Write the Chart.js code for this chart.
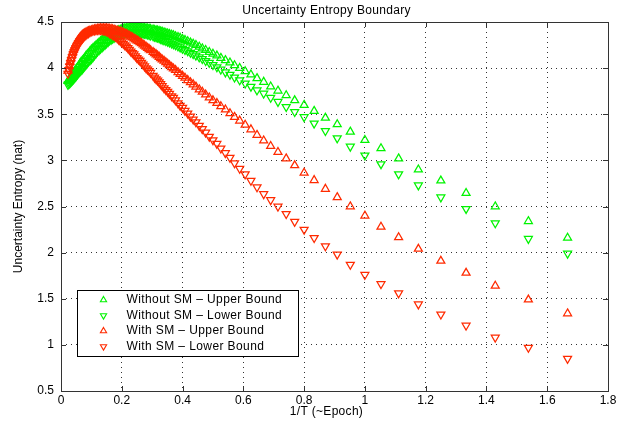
<!DOCTYPE html>
<html>
<head>
<meta charset="utf-8">
<title>Uncertainty Entropy Boundary</title>
<script src="https://cdn.jsdelivr.net/npm/chart.js@4.4.1/dist/chart.umd.min.js"></script>
<style>
    html, body { margin: 0; padding: 0; background: #fff; }
    #wrap { width: 639px; height: 426px; }
</style>
</head>
<body>
<div id="wrap"><canvas id="entropy-chart" width="639" height="426"></canvas></div>
<script>
// x = 1/T, shared by all four series (dense on the left where markers merge into a band)
const invT = [
    0.023, 0.026, 0.029, 0.032, 0.035, 0.038, 0.041, 0.044, 0.047, 0.050, 0.054,
    0.058, 0.062, 0.066, 0.070, 0.074, 0.078, 0.082, 0.086, 0.090, 0.095,
    0.100, 0.105, 0.110, 0.115, 0.120, 0.125, 0.130, 0.135, 0.140, 0.145,
    0.150, 0.155, 0.160, 0.165, 0.170, 0.175, 0.180, 0.185, 0.190, 0.195,
    0.200, 0.205, 0.210, 0.215, 0.220, 0.225, 0.230, 0.235, 0.240, 0.245,
    0.250, 0.255, 0.260, 0.265, 0.270, 0.275, 0.280, 0.285, 0.290, 0.295,
    0.303, 0.308, 0.313, 0.318, 0.323, 0.328, 0.333, 0.339, 0.345, 0.351, 0.357, 0.364, 0.370,
    0.377, 0.385, 0.392, 0.400, 0.408, 0.417, 0.426, 0.435, 0.444, 0.455, 0.465, 0.476, 0.488,
    0.500, 0.513, 0.526, 0.541, 0.556, 0.571, 0.588, 0.606, 0.625, 0.645,
    0.667, 0.690, 0.714, 0.741, 0.769, 0.800, 0.833, 0.870, 0.909, 0.952,
    1.000, 1.053, 1.111, 1.176, 1.250, 1.333, 1.429, 1.538, 1.667
];

const withoutSmUpper = [
    3.86, 3.87, 3.885, 3.90, 3.915, 3.93, 3.945, 3.96, 3.975, 3.99, 4.005,
    4.025, 4.045, 4.065, 4.08, 4.095, 4.11, 4.13, 4.145, 4.16, 4.18,
    4.20, 4.215, 4.23, 4.245, 4.26, 4.275, 4.29, 4.305, 4.32, 4.33,
    4.34, 4.35, 4.36, 4.37, 4.38, 4.388, 4.395, 4.403, 4.41, 4.415,
    4.42, 4.425, 4.43, 4.433, 4.435, 4.438, 4.44, 4.44, 4.44, 4.44,
    4.44, 4.44, 4.44, 4.438, 4.435, 4.433, 4.43, 4.428, 4.425, 4.423,
    4.417, 4.412, 4.408, 4.406, 4.402, 4.397, 4.392, 4.386, 4.38, 4.374, 4.368, 4.361, 4.355,
    4.345, 4.335, 4.327, 4.315, 4.303, 4.29, 4.276, 4.263, 4.249, 4.23, 4.213, 4.196, 4.174,
    4.155, 4.135, 4.11, 4.085, 4.06, 4.03, 4.00, 3.965, 3.93, 3.89,
    3.85, 3.80, 3.755, 3.705, 3.65, 3.60, 3.535, 3.46, 3.39, 3.31,
    3.22, 3.13, 3.02, 2.90, 2.78, 2.645, 2.50, 2.34, 2.16
];

const withoutSmLower = [
    3.82, 3.83, 3.838, 3.848, 3.859, 3.87, 3.881, 3.893, 3.904, 3.915, 3.931,
    3.947, 3.963, 3.978, 3.99, 4.006, 4.022, 4.038, 4.054, 4.07, 4.085,
    4.10, 4.12, 4.14, 4.16, 4.18, 4.195, 4.21, 4.225, 4.24, 4.255,
    4.27, 4.285, 4.30, 4.31, 4.32, 4.33, 4.34, 4.348, 4.355, 4.36,
    4.365, 4.37, 4.375, 4.378, 4.38, 4.383, 4.385, 4.385, 4.385, 4.385,
    4.385, 4.383, 4.38, 4.378, 4.375, 4.373, 4.37, 4.365, 4.36, 4.355,
    4.347, 4.342, 4.337, 4.332, 4.326, 4.318, 4.31, 4.302, 4.295, 4.288, 4.28, 4.269, 4.26,
    4.25, 4.237, 4.226, 4.21, 4.198, 4.185, 4.168, 4.153, 4.137, 4.118, 4.10, 4.078, 4.058,
    4.035, 4.01, 3.985, 3.955, 3.93, 3.90, 3.87, 3.835, 3.80, 3.76,
    3.725, 3.68, 3.635, 3.58, 3.525, 3.47, 3.40, 3.32, 3.24, 3.15,
    3.055, 2.96, 2.85, 2.73, 2.60, 2.475, 2.32, 2.15, 1.99
];

const withSmUpper = [
    3.97, 4.02, 4.065, 4.105, 4.14, 4.17, 4.20, 4.225, 4.247, 4.27, 4.294,
    4.312, 4.328, 4.344, 4.36, 4.368, 4.376, 4.384, 4.392, 4.40, 4.405,
    4.41, 4.415, 4.42, 4.423, 4.425, 4.428, 4.43, 4.43, 4.43, 4.43,
    4.43, 4.428, 4.425, 4.423, 4.42, 4.415, 4.41, 4.405, 4.40, 4.395,
    4.39, 4.383, 4.375, 4.368, 4.36, 4.35, 4.34, 4.33, 4.32, 4.31,
    4.30, 4.29, 4.28, 4.268, 4.255, 4.243, 4.23, 4.218, 4.205, 4.193,
    4.173, 4.16, 4.148, 4.135, 4.121, 4.106, 4.093, 4.078, 4.063, 4.047, 4.029, 4.01, 3.995,
    3.978, 3.955, 3.935, 3.915, 3.895, 3.869, 3.845, 3.823, 3.798, 3.768, 3.743, 3.712, 3.68,
    3.65, 3.62, 3.585, 3.55, 3.51, 3.47, 3.43, 3.385, 3.335, 3.275,
    3.215, 3.155, 3.09, 3.02, 2.945, 2.865, 2.785, 2.69, 2.60, 2.50,
    2.40, 2.28, 2.165, 2.04, 1.91, 1.78, 1.64, 1.49, 1.34
];

const withSmLower = [
    3.94, 3.98, 4.018, 4.055, 4.09, 4.12, 4.15, 4.175, 4.198, 4.22, 4.244,
    4.268, 4.288, 4.304, 4.32, 4.336, 4.349, 4.361, 4.373, 4.38, 4.39,
    4.40, 4.405, 4.41, 4.413, 4.415, 4.415, 4.415, 4.413, 4.41, 4.405,
    4.40, 4.39, 4.38, 4.37, 4.36, 4.35, 4.34, 4.325, 4.31, 4.295,
    4.28, 4.265, 4.25, 4.235, 4.22, 4.20, 4.18, 4.165, 4.15, 4.13,
    4.11, 4.095, 4.08, 4.06, 4.04, 4.02, 4.00, 3.985, 3.97, 3.95,
    3.918, 3.898, 3.881, 3.866, 3.848, 3.828, 3.808, 3.784, 3.765, 3.746, 3.722, 3.696, 3.68,
    3.652, 3.62, 3.594, 3.57, 3.538, 3.509, 3.476, 3.445, 3.414, 3.375, 3.34, 3.302, 3.258,
    3.22, 3.18, 3.13, 3.08, 3.03, 2.97, 2.91, 2.85, 2.78, 2.71,
    2.635, 2.57, 2.50, 2.42, 2.335, 2.25, 2.16, 2.07, 1.98, 1.87,
    1.76, 1.66, 1.56, 1.44, 1.33, 1.21, 1.08, 0.97, 0.85
];

const seriesLabels = [
    'Without SM \u2013 Upper Bound',
    'Without SM \u2013 Lower Bound',
    'With SM \u2013 Upper Bound',
    'With SM \u2013 Lower Bound'
];

const xTickValues = [0, 0.2, 0.4, 0.6, 0.8, 1, 1.2, 1.4, 1.6, 1.8];
const yTickValues = [0.5, 1, 1.5, 2, 2.5, 3, 3.5, 4, 4.5];

const chartTitle = 'Uncertainty Entropy Boundary';
const xTitle = '1/T (~Epoch)';
const yTitle = 'Uncertainty Entropy (nat)';

const GREEN = '#00f400';
const RED = '#ff2a00';
const FONT = '"Liberation Sans", Arial, Helvetica, sans-serif';

Chart.defaults.font.family = FONT;
Chart.defaults.font.size = 12;
Chart.defaults.color = '#000';

const toPoints = (ys) => ys.map((y, i) => ({ x: invT[i], y: y }));

function makeSeries(label, ys, color, down, order) {
    return {
        label: label,
        data: toPoints(ys),
        showLine: false,
        pointStyle: 'triangle',
        pointRotation: down ? 180 : 0,
        pointRadius: 4.6,
        pointBorderWidth: 1.25,
        pointBorderColor: color,
        pointBackgroundColor: 'rgba(0,0,0,0)',
        borderColor: color,
        backgroundColor: 'rgba(0,0,0,0)',
        order: order
    };
}

const fmt = (v) => String(Number(v.toFixed(1)));

// triangle marker for the legend
function triangle(ctx, x, y, r, down) {
    const s = down ? -1 : 1;
    ctx.beginPath();
    ctx.moveTo(x, y - s * r);
    ctx.lineTo(x + r * 0.866, y + s * r / 2);
    ctx.lineTo(x - r * 0.866, y + s * r / 2);
    ctx.closePath();
    ctx.stroke();
}

// box frame, inward tick marks, titles and the boxed legend
const matlabFrame = {
    id: 'matlabFrame',
    afterDraw(chart) {
        const { ctx, chartArea: a, scales } = chart;
        ctx.save();
        ctx.strokeStyle = '#333';
        ctx.lineWidth = 1;
        ctx.setLineDash([]);

        const tick = 5;
        ctx.beginPath();
        xTickValues.forEach(v => {
            const px = Math.round(scales.x.getPixelForValue(v)) + 0.5;
            ctx.moveTo(px, a.bottom); ctx.lineTo(px, a.bottom - tick);
            ctx.moveTo(px, a.top); ctx.lineTo(px, a.top + tick);
        });
        yTickValues.forEach(v => {
            const py = Math.round(scales.y.getPixelForValue(v)) + 0.5;
            ctx.moveTo(a.left, py); ctx.lineTo(a.left + tick, py);
            ctx.moveTo(a.right, py); ctx.lineTo(a.right - tick, py);
        });
        ctx.stroke();

        ctx.strokeRect(Math.round(a.left) + 0.5, Math.round(a.top) + 0.5,
            Math.round(a.right) - Math.round(a.left), Math.round(a.bottom) - Math.round(a.top));

        // chart title and x-axis title
        const midX = (a.left + a.right) / 2 - 8;
        ctx.fillStyle = '#000';
        ctx.font = '12px ' + FONT;
        ctx.textAlign = 'center';
        ctx.textBaseline = 'middle';
        ctx.letterSpacing = '0.3px';
        ctx.fillText(chartTitle, midX, 11);
        ctx.fillText(xTitle, midX, a.bottom + 21);

        // legend
        const lx = Math.round(a.left) + 16.5;
        const ly = Math.round(a.bottom) - 100.5;
        const lw = 221, lh = 66;
        ctx.fillStyle = '#fff';
        ctx.fillRect(lx, ly, lw, lh);
        ctx.strokeStyle = '#000';
        ctx.strokeRect(lx, ly, lw, lh);

        ctx.textAlign = 'left';
        ctx.letterSpacing = '0.4px';
        chart.data.datasets.forEach((ds, i) => {
            const rowY = ly + 9.5 + i * 15.5;
            ctx.strokeStyle = ds.pointBorderColor;
            ctx.lineWidth = 1.1;
            triangle(ctx, lx + 26, rowY, 3.6, ds.pointRotation === 180);
            ctx.fillStyle = '#000';
            ctx.fillText(ds.label, lx + 49, rowY);
        });
        ctx.restore();
    }
};

const chartCanvas = document.getElementById('entropy-chart');

new Chart(chartCanvas, {
    type: 'scatter',
    data: {
        datasets: [
            makeSeries(seriesLabels[0], withoutSmUpper, GREEN, false, 4),
            makeSeries(seriesLabels[1], withoutSmLower, GREEN, true, 3),
            makeSeries(seriesLabels[2], withSmUpper, RED, false, 2),
            makeSeries(seriesLabels[3], withSmLower, RED, true, 1)
        ]
    },
    options: {
        responsive: false,
        animation: false,
        events: [],
        layout: { padding: { top: 22, right: 31, bottom: 0, left: 0 } },
        plugins: {
            legend: { display: false },
            tooltip: { enabled: false },
            title: { display: false }
        },
        scales: {
            x: {
                type: 'linear',
                min: 0,
                max: 1.8,
                afterBuildTicks: (scale) => { scale.ticks = xTickValues.map(v => ({ value: v })); },
                afterFit: (scale) => { scale.height = 35; },
                grid: { color: '#333', drawTicks: false, lineWidth: 1 },
                border: { display: false, dash: [1, 4] },
                ticks: { padding: 2, callback: fmt, maxRotation: 0, font: { size: 12 } },
                title: { display: false }
            },
            y: {
                type: 'linear',
                min: 0.5,
                max: 4.5,
                afterBuildTicks: (scale) => { scale.ticks = yTickValues.map(v => ({ value: v })); },
                afterFit: (scale) => { scale.width = 61; },
                grid: { color: '#333', drawTicks: false, lineWidth: 1 },
                border: { display: false, dash: [1, 4] },
                ticks: { padding: 7, callback: fmt, font: { size: 12 } },
                title: { display: true, text: yTitle, font: { size: 12 }, padding: { top: 11, bottom: 0 } }
            }
        }
    },
    plugins: [matlabFrame]
});
</script>
</body>
</html>
